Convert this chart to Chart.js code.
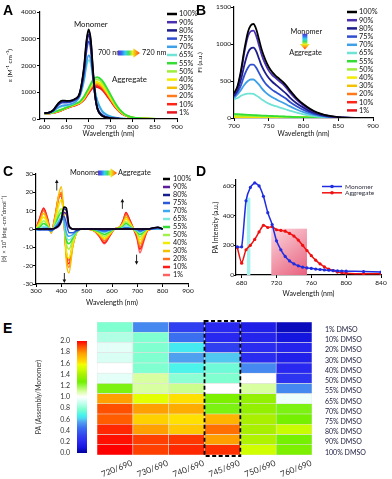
<!DOCTYPE html>
<html>
<head>
<meta charset="utf-8">
<script src="https://cdn.jsdelivr.net/npm/chart.js@4.4.1/dist/chart.umd.min.js"></script>
<style>
  html, body { margin: 0; padding: 0; background: #fff; }
  #fig { position: relative; width: 392px; height: 479px; overflow: hidden; }
  .panel { position: absolute; }
  .tag { position: absolute; font: bold 14px Arial, "Liberation Sans", sans-serif; line-height: 1; color: #000; }
</style>
</head>
<body>
<div id="fig">
  <div class="panel" style="left:0;top:0;width:200px;height:140px"><canvas id="ca"></canvas></div>
  <div class="panel" style="left:195px;top:0;width:197px;height:140px"><canvas id="cb"></canvas></div>
  <div class="panel" style="left:0;top:150px;width:200px;height:160px"><canvas id="cc"></canvas></div>
  <div class="panel" style="left:195px;top:150px;width:197px;height:150px"><canvas id="cd"></canvas></div>
  <div class="panel" style="left:30px;top:330px;width:62px;height:130px"><canvas id="cbar"></canvas></div>
  <div class="panel" style="left:95px;top:315px;width:297px;height:164px"><canvas id="ce"></canvas></div>
  <div class="tag" style="left:3px;top:3px">A</div>
  <div class="tag" style="left:196px;top:3px">B</div>
  <div class="tag" style="left:3px;top:164px">C</div>
  <div class="tag" style="left:196px;top:164px">D</div>
  <div class="tag" style="left:3px;top:321px">E</div>
</div>
<script>
'use strict';

// ── data ────────────────────────────────────────────────────────────────
const pctLabels = ['100%','90%','80%','75%','70%','65%','55%','50%','40%','30%','20%','10%','1%'];
const pctColors = ['#000000','#4b2fb0','#1c1c8c','#2f4fd0','#3ea0e8','#6fe3d6','#33dd33',
                   '#9cf03c','#f2ec00','#f5c000','#ff7a1a','#ff2418','#e8141e'];
const cdColors  = ['#000000','#5a1e9a','#141e8c','#2a5ad8','#3ea8f0','#7ee8dc','#33dd33',
                   '#a0f050','#f0ec00','#f5c000','#ff7020','#ff1a1a','#ff6060'];

// A: absorption (ε)
const absWave = [600,610,620,630,640,650,660,670,680,690,695,700,705,710,715,720,730,740,750,760,770,780,790,800,820,840,860,880,900];
const ab100 = [220,240,330,560,690,680,690,760,980,2000,2900,3350,2950,1800,850,380,130,60,30,15,8,4,2,0,0,0,0,0,0];
const ab90  = [220,240,330,550,680,670,680,750,960,1950,2850,3300,2900,1750,830,370,130,60,30,15,8,4,2,0,0,0,0,0,0];
const ab80  = [220,235,320,530,650,650,665,735,940,1880,2720,3150,2780,1700,820,370,140,65,32,16,8,4,2,0,0,0,0,0,0];
const ab75  = [215,230,310,500,610,615,640,715,920,1780,2520,2900,2580,1620,820,420,170,80,40,20,10,5,2,0,0,0,0,0,0];
const ab70  = [210,225,290,420,500,520,560,640,860,1520,2100,2380,2200,1560,1000,650,300,160,90,50,25,12,5,2,0,0,0,0,0];
const ab65  = [210,225,280,400,470,500,545,630,850,1450,1950,2200,2060,1500,1000,680,330,180,100,55,28,14,6,2,0,0,0,0,0];
const ab55  = [210,220,250,300,360,430,500,570,650,850,1000,1150,1320,1470,1550,1560,1450,1200,900,600,360,200,110,60,25,10,5,0,0];
const ab50  = [210,220,250,300,360,430,500,560,640,830,980,1120,1280,1410,1470,1470,1370,1130,850,570,340,190,105,55,22,9,4,0,0];
const ab40  = [205,215,240,290,350,420,490,550,620,800,940,1080,1230,1350,1400,1390,1290,1060,800,530,320,180,100,55,22,9,4,0,0];
const ab30  = [205,215,240,285,345,415,480,540,610,780,920,1060,1200,1310,1350,1340,1240,1020,760,500,300,170,95,50,20,8,3,0,0];
const ab20  = [200,210,235,280,340,410,470,530,600,760,890,1020,1160,1260,1300,1290,1190,980,730,480,290,165,90,48,20,8,3,0,0];
const ab10  = [200,210,230,275,335,405,465,520,590,740,860,990,1120,1210,1250,1240,1150,940,700,460,280,160,88,46,18,7,3,0,0];
const ab1   = [200,205,225,270,330,400,460,510,580,720,840,960,1080,1170,1200,1190,1100,900,670,440,270,150,85,45,18,7,3,0,0];
const absTicksX = [600,650,700,750,800,850,900];
const absTicksY = [0,1000,2000,3000,4000];

// B: fluorescence
const flWave = [700,705,710,715,720,724,728,732,736,740,745,750,755,760,765,770,775,780,790,800,810,820,830,840,850,860,880,900];
const fl100 = [330,430,640,930,1160,1250,1270,1200,1060,920,790,690,620,570,530,490,440,380,270,185,120,72,42,24,12,6,1,0];
const fl90  = [320,410,610,890,1100,1170,1180,1110,980,850,730,640,580,540,500,460,410,350,250,170,110,66,38,22,11,5,1,0];
const fl80  = [300,380,520,720,880,940,950,900,800,700,610,540,490,450,410,370,330,280,200,140,90,55,32,18,9,4,1,0];
const fl75  = [290,350,440,580,680,720,720,680,610,540,470,420,380,350,320,290,260,220,160,110,72,44,26,15,8,4,1,0];
const fl70  = [270,320,380,450,500,520,520,490,450,400,350,310,280,255,230,210,185,160,115,80,52,32,19,11,6,3,1,0];
const fl65  = [250,270,300,320,330,330,325,305,280,250,220,195,175,160,145,130,115,100,72,50,33,20,12,7,4,2,0,0];
const fl55  = [55,52,49,46,43,41,39,37,35,33,31,29,27,25,23,21,19,17,13,9,6,4,2,1,0,0,0,0];
const fl50  = [32,31,30,29,28,27,26,25,24,23,22,21,20,19,18,17,16,15,12,9,7,5,3,2,1,0,0,0];
const fl40  = [16,16,16,16,16,15,15,15,15,14,14,14,13,13,13,12,12,11,10,8,6,5,4,3,2,1,0,0];
const fl30  = [14,14,14,14,14,14,14,13,13,13,13,12,12,12,11,11,11,10,9,8,6,5,4,3,2,1,0,0];
const fl20  = [12,12,12,12,12,12,12,12,12,11,11,11,11,10,10,10,9,9,8,7,6,5,4,3,2,1,0,0];
const fl10  = [11,11,11,11,11,11,11,11,11,10,10,10,10,10,9,9,9,8,8,7,6,5,4,3,2,1,0,0];
const fl1   = [10,10,10,10,10,10,10,10,10,10,10,9,9,9,9,9,8,8,7,7,6,5,4,3,2,2,1,1];
const flTicksX = [700,750,800,850,900];
const flTicksY = [0,500,1000,1500];

// C: circular dichroism
const cdWave = [300,315,330,345,360,375,390,400,410,420,430,445,460,480,500,530,550,570,590,610,630,645,655,670,685,700,710,725,740,760,780,800];
const cd100 = [0,0,0,0,0,0.5,2,5,12,11.5,2,0,0,0,0,0,0,0,0,0,0,0,0,0,0,0,0,0,0,0.5,1,0];
const cd90  = [0,0,0,0,0,0.3,1.5,4,9,8,1,0,0,0,0,0,0,0,0,0,0,0,0,0,0,0,0,0,0,0.3,0.8,0];
const cd80  = [0,0,0,0,0,0.5,2,5,11,10,1.5,0,-0.5,0,0,0,0,0,0,0,0,0,0,0,0,0,0,0,0,0.5,1,0];
const cd75  = [0,-0.5,-0.5,-0.5,-1,0.5,3,5,7,3,-2,-2,-1,0,0,0,-0.5,-1,-0.5,0,0,0.3,0.5,0.3,0,-0.3,-1,-0.5,0,0,0.5,0];
const cd70  = [-0.5,-0.5,0.5,0.5,-1,1,4,6,5,-2,-4,-3,-1,0,0,0,-1,-1.5,-0.5,0,0,0.5,1,0.5,0,-0.5,-1.5,-0.5,0,0,0,0];
const cd65  = [-0.5,0,1.5,1,-1,1.5,5,7,4,-4,-6,-4,-1,0,0,0,-1,-2,-1,0,0,1,2,1,0,-1,-2,-1,0,0,0,0];
const cd55  = [0,1,3,1.5,-1,2,7,9,4,-6,-8,-5,-1.5,0,0,-0.5,-1.5,-3,-1.5,0,0.5,1.5,3,1.5,0,-1.5,-3,-1.5,0,0,0,0];
const cd50  = [0,2,4.5,2,-1.5,3,9,11,4,-8,-11,-6,-2,0,0,-0.5,-2,-4,-2,0,0.5,2,4,2,0,-2,-4.5,-2,0,0,0,0];
const cd40  = [0,3,6.5,3,-1.5,4,13,16,6,-12,-16,-8,-2,0,0,-0.5,-2.5,-5,-2.5,0,0.5,3,5.5,3,0,-2.5,-6,-3,-0.5,0,0,0];
const cd30  = [0,4,8.5,4,-2,6,19,23,8,-18,-24,-10,-2,0,0,-1,-3,-5.5,-3,0,1,3.5,6.5,3.5,0,-3,-8,-4,-0.5,0,0,0];
const cd20  = [0,5,10,5,-2,6,17,20,6,-15,-21,-9,-2,0,0,-1,-3.5,-6.5,-3.5,0,1,4,8,4,0,-4,-10,-5,-1,0,0,0];
const cd10  = [0,6,11.5,6,-2,7,18,19,5,-14,-19,-9,-2,0,0,-1,-4,-7.5,-4,0,1,5,9,5,0,-5,-11,-6,-1,0,0,0];
const cd1   = [0,6,11,6,-2,6,17,18,5,-13,-17,-8,-2,0,0,-1,-4,-8,-4,0,1,5,8.5,5,0,-6,-13,-7,-1,0,0,0];
const cdTicksX = [300,400,500,600,700,800,900];
const cdTicksY = [-30,-20,-10,0,10,20,30];

// D: photoacoustic intensity
const paWave = [675,680,685,690,695,700,705,710,715,720,725,730,735,740,745,750,755,760,765,770,775,780,785,790,795,800,820,840];
const paMono = [190,190,500,590,620,600,530,420,340,230,170,125,95,75,62,53,48,44,40,37,34,32,30,28,27,26,23,20];
const paAggr = [185,80,170,200,240,290,335,320,325,305,300,295,280,262,235,200,165,130,100,75,55,40,30,20,15,12,8,8];
const paTicksX = [680,720,760,800,840];
const paTicksY = [0,200,400,600];

// E: PA ratio heat map (rows top → bottom)
const rowLabels = ['1% DMSO','10% DMSO','20% DMSO','30% DMSO','40% DMSO','50% DMSO','55% DMSO',
                   '65% DMSO','70% DMSO','75% DMSO','80% DMSO','90% DMSO','100% DMSO'];
const ratioLabels = ['720/690','730/690','740/690','745/690','750/690','760/690'];
const pa720 = [0.78,0.86,0.95,0.93,1.00,0.95,1.25,1.78,1.90,1.88,1.95,1.98,2.00];
const pa730 = [0.50,0.78,0.78,0.78,0.78,1.10,1.10,1.55,1.78,1.66,1.78,1.92,1.92];
const pa740 = [0.30,0.45,0.65,0.55,0.68,0.80,1.12,1.62,1.75,1.62,1.68,1.93,1.95];
const pa745 = [0.20,0.20,0.30,0.60,0.75,0.78,1.00,1.30,1.25,1.73,1.85,1.78,1.94];
const pa750 = [0.15,0.18,0.22,0.22,0.50,1.00,1.10,1.35,1.35,1.40,1.40,1.42,1.50];
const pa760 = [0.05,0.10,0.18,0.16,0.20,0.25,0.50,0.97,1.25,1.28,1.48,1.28,1.30];
const cbTicks = [0,0.2,0.4,0.6,0.8,1.0,1.2,1.4,1.6,1.8,2.0];
const paStops = [
  [0.00,'#00009c'],[0.10,'#1515e0'],[0.20,'#2828f0'],[0.30,'#3040f0'],[0.45,'#3a70f0'],
  [0.55,'#50a0f0'],[0.62,'#50d8f0'],[0.66,'#40f0f0'],[0.78,'#80ffd0'],[0.90,'#c8fff0'],
  [1.00,'#ffffff'],[1.10,'#d8ffa0'],[1.20,'#98f840'],[1.27,'#70f000'],[1.40,'#a8f000'],
  [1.50,'#d0ff00'],[1.58,'#f0ff00'],[1.62,'#ffe000'],[1.70,'#ffc000'],[1.78,'#ffa000'],
  [1.85,'#ff7000'],[1.90,'#ff5000'],[1.95,'#ff2800'],[2.00,'#ff0000'],
];

const rainbow = ['#5b2fc9','#2f6ff0','#35d0f0','#40e060','#e8f020','#ff9a10','#ff3010'];

// ── helpers ─────────────────────────────────────────────────────────────
const FONT = 'Lato, "DejaVu Sans", sans-serif';
Chart.defaults.font.family = FONT;
Chart.defaults.color = '#111';
Chart.defaults.animation = false;
Chart.defaults.responsive = true;
Chart.defaults.maintainAspectRatio = false;
Chart.defaults.plugins.legend.display = false;
Chart.defaults.plugins.tooltip.enabled = false;

function hexRgb(h) {
  return [parseInt(h.slice(1,3),16), parseInt(h.slice(3,5),16), parseInt(h.slice(5,7),16)];
}
function paColor(v) {
  for (let i = 1; i < paStops.length; i++) {
    const [v1, c1] = paStops[i];
    if (v <= v1) {
      const [v0, c0] = paStops[i - 1];
      const t = (v - v0) / (v1 - v0);
      const a = hexRgb(c0), b = hexRgb(c1);
      return 'rgb(' + a.map((k, j) => Math.round(k + (b[j] - k) * t)).join(',') + ')';
    }
  }
  return paStops[paStops.length - 1][1];
}

function lineSets(xs, series, colors, width) {
  return series.map((ys, i) => ({
    label: pctLabels[i],
    data: xs.map((x, j) => ({x, y: ys[j]})),
    borderColor: colors[i],
    borderWidth: width,
    pointRadius: 0,
    cubicInterpolationMode: 'monotone',
    fill: false,
  }));
}

// plain number ticks (no thousands separator)
const plainTicks = (pad) => ({color: '#111', font: {size: 6.5}, padding: pad, autoSkip: false, callback: v => String(v)});

function axisStyle(extra) {
  return Object.assign({
    type: 'linear',
    grid: {drawOnChartArea: false, drawTicks: true, tickLength: 3, color: '#000', lineWidth: 1},
    border: {display: true, color: '#000', width: 1.2},
    ticks: plainTicks(1),
  }, extra);
}
const fixTicks = arr => ax => { ax.ticks = arr.map(value => ({value})); };
// fixed axis box; drop the label overflow padding so the plot area stays put
const fixW = w => s => { s.width = w; s.paddingTop = 0; s.paddingBottom = 0; };
const fixH = h => s => { s.height = h; s.paddingLeft = 0; s.paddingRight = 0; };

// custom legend drawn at a fixed spot
const lineLegend = {
  id: 'lineLegend',
  afterDraw(chart, args, o) {
    if (!o || o.x == null) return;
    const {ctx} = chart;
    ctx.save();
    ctx.font = (o.size || 7.5) + 'px ' + FONT;
    ctx.textBaseline = 'middle';
    ctx.textAlign = 'left';
    chart.data.datasets.forEach((ds, i) => {
      const y = o.y + i * o.step;
      ctx.strokeStyle = ds.borderColor;
      ctx.lineWidth = o.lineWidth || 2.5;
      ctx.beginPath(); ctx.moveTo(o.x, y); ctx.lineTo(o.x + o.len, y); ctx.stroke();
      if (o.marker) {
        ctx.fillStyle = ds.borderColor;
        ctx.beginPath(); ctx.arc(o.x + o.len / 2, y, 1.8, 0, Math.PI * 2); ctx.fill();
      }
      ctx.fillStyle = o.color || '#111';
      ctx.fillText(ds.label, o.x + o.len + (o.gap || 2), y);
    });
    ctx.restore();
  },
};

// text, arrows and shaded areas placed in data coordinates
function drawNotes(chart, items) {
  if (!items) return;
  const {ctx} = chart;
  const X = v => chart.scales.x.getPixelForValue(v);
  const Y = v => chart.scales.y.getPixelForValue(v);
  ctx.save();
  for (const it of items) {
    if (it.type === 'text') {
      ctx.font = (it.size || 7.8) + 'px ' + FONT;
      ctx.fillStyle = it.color || '#111';
      ctx.textAlign = it.align || 'center';
      ctx.textBaseline = 'middle';
      ctx.fillText(it.text, X(it.x), Y(it.y));
    } else if (it.type === 'arrow') {
      const x = X(it.x), y1 = Y(it.y1), y2 = Y(it.y2), d = y2 > y1 ? 1 : -1;
      ctx.strokeStyle = '#111'; ctx.fillStyle = '#111'; ctx.lineWidth = 0.9;
      ctx.beginPath(); ctx.moveTo(x, y1); ctx.lineTo(x, y2 - d * 2.5); ctx.stroke();
      ctx.beginPath(); ctx.moveTo(x, y2); ctx.lineTo(x - 1.8, y2 - d * 3.5); ctx.lineTo(x + 1.8, y2 - d * 3.5);
      ctx.closePath(); ctx.fill();
    } else if (it.type === 'rainbowH') {
      const x1 = X(it.x1), x2 = X(it.x2), y = Y(it.y), h = it.h, head = h * 1.3;
      const g = ctx.createLinearGradient(x1, 0, x2, 0);
      rainbow.forEach((c, i) => g.addColorStop(i / (rainbow.length - 1), c));
      ctx.fillStyle = g;
      ctx.beginPath();
      ctx.moveTo(x1, y - h / 2); ctx.lineTo(x2 - head, y - h / 2); ctx.lineTo(x2 - head, y - h * 0.95);
      ctx.lineTo(x2, y); ctx.lineTo(x2 - head, y + h * 0.95); ctx.lineTo(x2 - head, y + h / 2);
      ctx.lineTo(x1, y + h / 2); ctx.closePath(); ctx.fill();
    } else if (it.type === 'rainbowV') {
      const x = X(it.x), y1 = Y(it.y1), y2 = Y(it.y2), w = it.w, head = w * 1.1;
      const g = ctx.createLinearGradient(0, y1, 0, y2);
      rainbow.forEach((c, i) => g.addColorStop(i / (rainbow.length - 1), c));
      ctx.fillStyle = g;
      ctx.beginPath();
      ctx.moveTo(x - w / 2, y1); ctx.lineTo(x + w / 2, y1); ctx.lineTo(x + w / 2, y2 - head);
      ctx.lineTo(x + w, y2 - head); ctx.lineTo(x, y2); ctx.lineTo(x - w, y2 - head);
      ctx.lineTo(x - w / 2, y2 - head); ctx.closePath(); ctx.fill();
    } else if (it.type === 'band') {
      const x1 = X(it.x1), x2 = X(it.x2), y1 = Y(it.y1), y2 = Y(it.y2);
      let fill = it.fill;
      if (it.grad) {
        fill = ctx.createLinearGradient(x1, y2, x2, y1);
        fill.addColorStop(0, it.grad[0]); fill.addColorStop(1, it.grad[1]);
      }
      ctx.fillStyle = fill;
      ctx.fillRect(x1, y2, x2 - x1, y1 - y2);
    } else if (it.type === 'box') {
      const x1 = X(it.x1), x2 = X(it.x2), y1 = Y(it.y1), y2 = Y(it.y2);
      ctx.strokeStyle = '#000'; ctx.lineWidth = 1.8; ctx.setLineDash([4, 2.5]);
      ctx.strokeRect(x1, y2 - 1, x2 - x1, y1 - y2 + 2);
    }
  }
  ctx.restore();
}
const notes = {
  id: 'notes',
  beforeDatasetsDraw(chart, args, o) { drawNotes(chart, o.under); },
  afterDatasetsDraw(chart, args, o) { drawNotes(chart, o.over); },
};
Chart.register(lineLegend, notes);

const wlTitle = pb => ({display: true, text: 'Wavelength (nm)', color: '#111', font: {size: 7}, padding: {top: 0, bottom: pb}});

// ── A: absorption ───────────────────────────────────────────────────────
new Chart(document.getElementById('ca'), {
  type: 'line',
  data: {datasets: lineSets(absWave, [ab100,ab90,ab80,ab75,ab70,ab65,ab55,ab50,ab40,ab30,ab20,ab10,ab1], pctColors, 1.8)},
  options: {
    layout: {padding: {left: 0, top: 12, right: 23, bottom: 0}},
    scales: {
      x: axisStyle({min: 590, max: 900, afterBuildTicks: fixTicks(absTicksX), afterFit: fixH(21),
                    title: wlTitle(2)}),
      y: axisStyle({min: 0, max: 4000, afterBuildTicks: fixTicks(absTicksY), afterFit: fixW(40),
                    title: {display: true, text: 'ε (M⁻¹ cm⁻¹)', color: '#111', font: {size: 6.5}, padding: {top: 6, bottom: 0}}}),
    },
    plugins: {
      lineLegend: {x: 167, y: 14, step: 8.2, len: 10, size: 7.3},
      notes: {over: [
        {type: 'text', text: 'Monomer', x: 705, y: 3520},
        {type: 'text', text: '700 nm', x: 721, y: 2470, align: 'left', size: 7.2},
        {type: 'rainbowH', x1: 766, x2: 816, y: 2470, h: 5},
        {type: 'text', text: '720 nm', x: 821, y: 2470, align: 'left', size: 7.2},
        {type: 'text', text: 'Aggregate', x: 753, y: 1460, align: 'left'},
      ]},
    },
  },
});

// ── B: fluorescence ─────────────────────────────────────────────────────
new Chart(document.getElementById('cb'), {
  type: 'line',
  data: {datasets: lineSets(flWave, [fl100,fl90,fl80,fl75,fl70,fl65,fl55,fl50,fl40,fl30,fl20,fl10,fl1], pctColors, 1.8)},
  options: {
    layout: {padding: {left: 0, top: 7, right: 19, bottom: 0}},
    scales: {
      x: axisStyle({min: 700, max: 900, afterBuildTicks: fixTicks(flTicksX), afterFit: fixH(22), title: wlTitle(2)}),
      y: axisStyle({min: 0, max: 1500, afterBuildTicks: fixTicks(flTicksY), afterFit: fixW(39),
                    ticks: plainTicks(0),
                    title: {display: true, text: 'FI (a.u.)', color: '#111', font: {size: 6.5}, padding: {top: 1, bottom: 0}}}),
    },
    plugins: {
      lineLegend: {x: 152, y: 12, step: 8.2, len: 10, size: 7.3},
      notes: {over: [
        {type: 'text', text: 'Monomer', x: 804, y: 1165, size: 7.3},
        {type: 'rainbowV', x: 802, y1: 1140, y2: 925, w: 5},
        {type: 'text', text: 'Aggregate', x: 803, y: 880, size: 7.3},
      ]},
    },
  },
});

// ── C: circular dichroism ───────────────────────────────────────────────
new Chart(document.getElementById('cc'), {
  type: 'line',
  data: {datasets: lineSets(cdWave, [cd100,cd90,cd80,cd75,cd70,cd65,cd55,cd50,cd40,cd30,cd20,cd10,cd1], cdColors, 1.5)},
  options: {
    layout: {padding: {left: 0, top: 24, right: 12, bottom: 0}},
    scales: {
      x: axisStyle({min: 300, max: 900, afterBuildTicks: fixTicks(cdTicksX), afterFit: fixH(26),
                    ticks: plainTicks(0), title: wlTitle(2.8)}),
      y: axisStyle({min: -30, max: 30, afterBuildTicks: fixTicks(cdTicksY), afterFit: fixW(36),
                    ticks: plainTicks(0),
                    title: {display: true, text: '[θ] × 10³ (deg ·cm²dmol⁻¹)', color: '#333', font: {size: 6}, padding: {top: 0, bottom: 0}}}),
    },
    plugins: {
      lineLegend: {x: 163, y: 29, step: 8, len: 7, size: 7.2, gap: 3},
      notes: {over: [
        {type: 'text', text: 'Monomer', x: 434, y: 30.5, align: 'left', size: 7.3},
        {type: 'rainbowH', x1: 545, x2: 620, y: 30.5, h: 5},
        {type: 'text', text: 'Aggregate', x: 624, y: 30.5, align: 'left', size: 7.3},
        {type: 'arrow', x: 382, y1: 21, y2: 27},
        {type: 'arrow', x: 412, y1: -24, y2: -29.5},
        {type: 'arrow', x: 641, y1: 11, y2: 16.5},
        {type: 'arrow', x: 697, y1: -14, y2: -19.5},
      ]},
    },
  },
});

// ── D: photoacoustic spectra ────────────────────────────────────────────
new Chart(document.getElementById('cd'), {
  type: 'line',
  data: {datasets: [
    {label: 'Monomer', data: paWave.map((x, i) => ({x, y: paMono[i]})), borderColor: '#1f2de0', backgroundColor: '#1f2de0',
     borderWidth: 1.5, pointRadius: 1.6, pointBorderWidth: 0, tension: 0.2},
    {label: 'Aggregate', data: paWave.map((x, i) => ({x, y: paAggr[i]})), borderColor: '#f01010', backgroundColor: '#f01010',
     borderWidth: 1.5, pointRadius: 1.6, pointBorderWidth: 0, tension: 0.2},
  ]},
  options: {
    layout: {padding: {left: 0, top: 30, right: 11, bottom: 0}},
    scales: {
      x: axisStyle({min: 673.5, max: 840, afterBuildTicks: fixTicks(paTicksX), afterFit: fixH(25), title: wlTitle(2.3)}),
      y: axisStyle({min: 0, max: 640, afterBuildTicks: fixTicks(paTicksY), afterFit: fixW(41),
                    grid: {drawOnChartArea: false, drawTicks: true, tickLength: 2, color: '#000'},
                    ticks: plainTicks(0),
                    title: {display: true, text: 'PA Intensity (a.u.)', color: '#111', font: {size: 6.8}, padding: {top: 17, bottom: 0}}}),
    },
    plugins: {
      lineLegend: {x: 127, y: 36.5, step: 6.3, len: 20, size: 6.5, lineWidth: 1.5, marker: true, gap: 3, color: '#334'},
      notes: {under: [
        {type: 'band', x1: 686, x2: 690, y1: 0, y2: 520, fill: '#a6f2ee'},
        {type: 'band', x1: 714, x2: 755, y1: 0, y2: 312, grad: ['#fbd6dc', '#e8607e']},
      ]},
    },
  },
});

// ── E: colour bar ───────────────────────────────────────────────────────
new Chart(document.getElementById('cbar'), {
  type: 'bar',
  data: {labels: [''], datasets: [{
    data: [[cbTicks[0], cbTicks[cbTicks.length - 1]]],
    barPercentage: 1, categoryPercentage: 1, borderWidth: 0,
    backgroundColor: c => {
      const a = c.chart.chartArea;
      if (!a) return '#fff';
      const g = c.chart.ctx.createLinearGradient(0, a.bottom, 0, a.top);
      paStops.forEach(([v, col]) => g.addColorStop(v / 2, col));
      return g;
    },
  }]},
  options: {
    layout: {padding: {left: 0, top: 11, right: 5, bottom: 7}},
    scales: {
      x: {display: false},
      y: {min: 0, max: 2, afterBuildTicks: fixTicks(cbTicks), afterFit: fixW(47),
          grid: {display: false, drawTicks: false}, border: {display: false},
          ticks: {color: '#333', font: {size: 7}, padding: 7, autoSkip: false, callback: v => v.toFixed(1)},
          title: {display: true, text: 'PA (Assembly/Monomer)', color: '#333', font: {size: 6.8}, padding: {top: 4.8, bottom: 0}}},
    },
  },
});

// ── E: heat map ─────────────────────────────────────────────────────────
const paCols = [pa720, pa730, pa740, pa745, pa750, pa760];
new Chart(document.getElementById('ce'), {
  type: 'bar',
  data: {
    labels: ratioLabels,
    datasets: rowLabels.map((lab, r) => ({
      label: lab,
      data: paCols.map(() => 1),
      backgroundColor: paCols.map(col => paColor(col[r])),
      borderColor: 'rgba(225,225,225,0.9)',
      borderWidth: 0.6,
      borderSkipped: false,
      barPercentage: 1,
      categoryPercentage: 1,
    })).reverse(),
  },
  options: {
    layout: {padding: {left: 2, top: 7, right: 0, bottom: 0}},
    scales: {
      x: {stacked: true, afterFit: fixH(24), grid: {display: false, drawTicks: false}, border: {display: false},
          ticks: {autoSkip: false, minRotation: 22, maxRotation: 22, labelOffset: 17, padding: 3,
                  color: '#333', font: {size: 8.3}}},
      y: {stacked: true, position: 'right', min: 0, max: rowLabels.length, afterFit: fixW(80),
          afterBuildTicks: ax => { ax.ticks = rowLabels.map((_, i) => ({value: rowLabels.length - i - 0.75})); },
          grid: {display: false, drawTicks: false}, border: {display: false},
          ticks: {padding: 13, color: '#222244', font: {size: 7}, autoSkip: false,
                  callback: v => rowLabels[Math.round(rowLabels.length - 0.75 - v)]}},
    },
    plugins: {
      notes: {over: [{type: 'box', x1: 2.5, x2: 3.5, y1: 0, y2: rowLabels.length}]},
    },
  },
});
</script>
</body>
</html>
